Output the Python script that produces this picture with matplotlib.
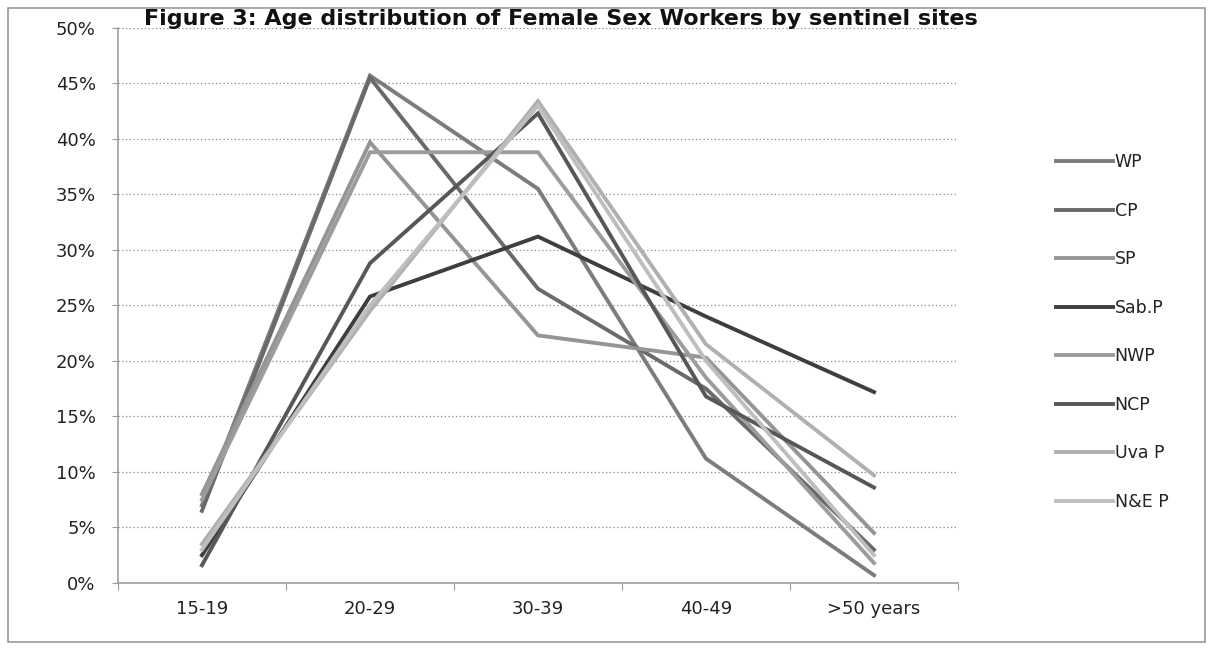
import matplotlib.pyplot as plt
from matplotlib.patches import Rectangle
from matplotlib.ticker import FixedLocator, PercentFormatter

# Age groups and share of workers (%) per sentinel site
age_groups = ["15-19", "20-29", "30-39", "40-49", ">50 years"]
sites = ["WP", "CP", "SP", "Sab.P", "NWP", "NCP", "Uva P", "N&E P"]

wp = [7.0, 45.7, 35.5, 11.2, 0.7]
cp = [6.5, 45.5, 26.5, 17.5, 3.0]
sp = [8.0, 39.7, 22.3, 20.3, 4.5]
sab_p = [2.5, 25.8, 31.2, 24.0, 17.2]
nwp = [7.5, 38.8, 38.8, 18.5, 1.8]
ncp = [1.6, 28.8, 42.3, 16.8, 8.6]
uva_p = [3.5, 24.5, 43.4, 21.5, 9.7]
ne_p = [3.0, 25.0, 43.0, 20.0, 2.5]

series = [wp, cp, sp, sab_p, nwp, ncp, uva_p, ne_p]
greys = ["#7c7c7c", "#6a6a6a", "#959595", "#3e3e3e",
         "#9c9c9c", "#575757", "#b0b0b0", "#bebebe"]

fig = plt.figure(figsize=(12.11, 6.5), dpi=100)
fig.patch.set_facecolor("white")

# thin outer frame round the chart
fig.patches.append(Rectangle((0.007, 0.012), 0.988, 0.976, transform=fig.transFigure,
                             fill=False, edgecolor="#9a9a9a", linewidth=1.2))

ax = fig.add_axes([0.0974, 0.1031, 0.6937, 0.854])
x = list(range(len(age_groups)))
lines = []
for vals, name, col in zip(series, sites, greys):
    ln, = ax.plot(x, vals, color=col, linewidth=2.8, label=name,
                  solid_joinstyle="miter")
    lines.append(ln)

ax.set_xlim(-0.5, len(age_groups) - 0.5)
ax.set_ylim(0, 50)
ax.yaxis.set_major_locator(FixedLocator(range(0, 51, 5)))
ax.yaxis.set_major_formatter(PercentFormatter(decimals=0))
ax.set_xticks(x)
ax.set_xticklabels(age_groups, fontsize=13)
ax.xaxis.set_minor_locator(FixedLocator([i - 0.5 for i in range(len(age_groups) + 1)]))
ax.tick_params(axis="x", which="major", length=0, pad=12, colors="#222222")
ax.tick_params(axis="x", which="minor", length=5, width=0.8, color="#9a9a9a")
ax.tick_params(axis="y", length=4, width=0.8, color="#9a9a9a", pad=12,
               labelsize=13, labelcolor="#222222")

ax.grid(axis="y", linestyle=(0, (1, 2)), color="#8a8a8a", linewidth=0.9)
ax.set_axisbelow(True)
for side in ("top", "right"):
    ax.spines[side].set_visible(False)
for side in ("left", "bottom"):
    ax.spines[side].set_color("#a0a0a0")
    ax.spines[side].set_linewidth(1.2)

fig.text(0.463, 0.971, "Figure 3: Age distribution of Female Sex Workers by sentinel sites",
         ha="center", va="center", fontsize=16, fontweight="bold",
         family="DejaVu Sans", color="#111111")

leg = ax.legend(handles=lines, loc="upper left", bbox_to_anchor=(1.108, 0.787),
                frameon=False, fontsize=12.5, handlelength=3.3, handletextpad=0.1,
                labelspacing=1.76, borderaxespad=0)
for t in leg.get_texts():
    t.set_color("#222222")

fig.savefig("out.png", dpi=100, facecolor="white")
